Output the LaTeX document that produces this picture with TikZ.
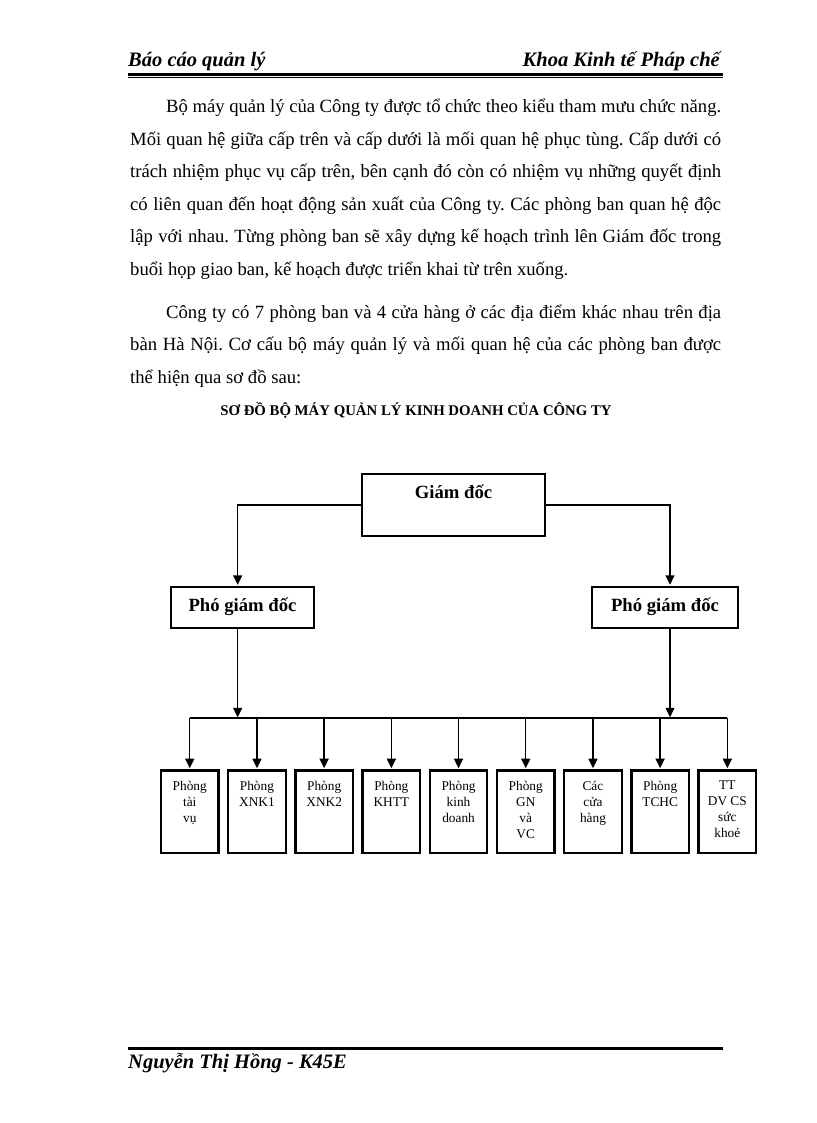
\documentclass[tikz,border=0pt]{standalone}
\usepackage{fontspec}
\setmainfont{Liberation Serif}
\usetikzlibrary{arrows.meta}
\frenchspacing
\newcommand{\utext}[1]{\vbox to 82.4pt{\hsize=57.5pt\centering\vskip 10.3pt #1\par\vfil}}
\begin{document}
\begin{tikzpicture}[x=1pt,y=-1pt,
  conn/.style={line width=1.4pt, -{Triangle[length=9.5pt,width=9pt]}},
  bigbox/.style={draw, line width=1.8pt, inner sep=0pt, anchor=north, font=\fontsize{18.67}{22}\selectfont\bfseries},
  unitbox/.style={draw, line width=2.3pt, inner sep=0pt, anchor=north, font=\fontsize{13.33}{16}\selectfont},
  body/.style={anchor=base west, inner sep=0pt, font=\fontsize{18.67}{22}\selectfont},
  hdr/.style={inner sep=0pt, font=\fontsize{20.5}{24}\selectfont\bfseries\itshape}
]
\useasboundingbox[fill=white] (0,0) rectangle (816,1123);

% header
\node[hdr, anchor=base west] (h1) at (128,67) {Báo cáo quản lý};
\node[hdr, anchor=base east] (h2) at (720,67) {Khoa Kinh tế Pháp chế};
\draw[line width=2.5pt] (128,74.5) -- (723,74.5);
\draw[line width=0.6pt] (128,77.4) -- (723,77.4);

% body text
\node[body] (l1) at (166,113) {\hbox to 555pt{Bộ máy quản lý của Công ty được tổ chức theo kiểu tham mưu chức năng.}};
\node[body] (l2) at (130,145.5) {\hbox to 591pt{Mối quan hệ giữa cấp trên và cấp dưới là mối quan hệ phục tùng. Cấp dưới có}};
\node[body] (l3) at (130,178) {\hbox to 591pt{trách nhiệm phục vụ cấp trên, bên cạnh đó còn có nhiệm vụ những quyết định}};
\node[body] (l4) at (130,210.5) {\hbox to 591pt{có liên quan đến hoạt động sản xuất của Công ty. Các phòng ban quan hệ độc}};
\node[body] (l5) at (130,243) {\hbox to 591pt{lập với nhau. Từng phòng ban sẽ xây dựng kế hoạch trình lên Giám đốc trong}};
\node[body] (l6) at (130,275.5) {buổi họp giao ban, kế hoạch được triển khai từ trên xuống.};
\node[body] (m1) at (166,318) {\hbox to 555pt{Công ty có 7 phòng ban và 4 cửa hàng ở các địa điểm khác nhau trên địa}};
\node[body] (m2) at (130,350.5) {\hbox to 591pt{bàn Hà Nội. Cơ cấu bộ máy quản lý và mối quan hệ của các phòng ban được}};
\node[body] (m3) at (130,383) {thể hiện qua sơ đồ sau:};
\node[anchor=base, inner sep=0pt, font=\fontsize{14.8}{18}\selectfont\bfseries] (title) at (416,415) {SƠ ĐỒ BỘ MÁY QUẢN LÝ KINH DOANH CỦA CÔNG TY};

% chart
\node[bigbox, minimum width=183pt, text height=24.2pt, text depth=37.5pt] (gd) at (453.5,473.3) {Giám đốc};
\node[bigbox, minimum width=143.6pt, text height=25.3pt, text depth=15.7pt] (pgd1) at (242.5,585.7) {Phó giám đốc};
\node[bigbox, minimum width=145.4pt, text height=25.3pt, text depth=15.7pt] (pgd2) at (665,585.7) {Phó giám đốc};

\draw[conn, shorten >=0.9pt] (gd.west) -| ([xshift=-4.8pt]pgd1.north);
\draw[conn, shorten >=0.9pt] (gd.east) -| ([xshift=5pt]pgd2.north);

\coordinate (bus) at (0,718.3);

\node[unitbox] (u1) at (189.75,769.3) {\utext{Phòng\\tài\\vụ}};
\node[unitbox] (u2) at (256.95,769.3) {\utext{Phòng\\XNK1}};
\node[unitbox] (u3) at (324.15,769.3) {\utext{Phòng\\XNK2}};
\node[unitbox] (u4) at (391.35,769.3) {\utext{Phòng\\KHTT}};
\node[unitbox] (u5) at (458.55,769.3) {\utext{Phòng\\kinh\\doanh}};
\node[unitbox] (u6) at (525.75,769.3) {\utext{Phòng\\GN\\và\\VC}};
\node[unitbox] (u7) at (592.95,769.3) {\utext{Các\\cửa\\hàng}};
\node[unitbox] (u8) at (660.15,769.3) {\utext{Phòng\\TCHC}};
\node[unitbox] (u9) at (727.35,769.3) {\utext{TT\\DV CS\\sức\\khoẻ}};

\draw[line width=2.2pt] (u1.north |- bus) -- (u9.north |- bus);
\draw[conn, shorten >=1pt] ([xshift=-4.8pt]pgd1.south) -- ([xshift=-4.8pt]pgd1.south |- bus);
\draw[conn, shorten >=1pt] ([xshift=5pt]pgd2.south) -- ([xshift=5pt]pgd2.south |- bus);
\foreach \i in {1,...,9} {
  \draw[conn, shorten >=1.1pt] (u\i.north |- bus) -- (u\i.north);
}

% footer
\draw[line width=3pt] (128,1048) -- (723,1048);
\node[hdr, anchor=base west] (ft) at (128,1068) {Nguyễn Thị Hồng - K45E};
\end{tikzpicture}
\end{document}
